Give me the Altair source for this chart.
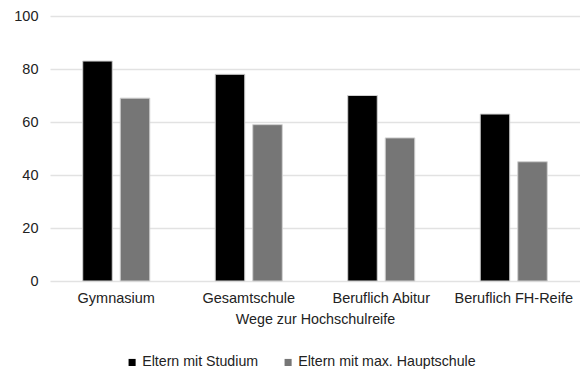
import altair as alt
import pandas as pd

# Survey shares (%) by route to university entrance qualification
categories = ["Gymnasium", "Gesamtschule", "Beruflich Abitur", "Beruflich FH-Reife"]
series = ["Eltern mit Studium", "Eltern mit max. Hauptschule"]
studium = [83, 78, 70, 63]
hauptschule = [69, 59, 54, 45]

rows = []
for cat, a, b in zip(categories, studium, hauptschule):
    rows.append({"Weg": cat, "Gruppe": series[0], "Wert": a})
    rows.append({"Weg": cat, "Gruppe": series[1], "Wert": b})
df = pd.DataFrame(rows)

FONT = "Liberation Sans"

chart = (
    alt.Chart(df)
    .mark_bar(stroke="#d0d0d0", strokeWidth=1)
    .encode(
        x=alt.X(
            "Weg:N",
            sort=categories,
            title="Wege zur Hochschulreife",
            scale=alt.Scale(paddingInner=0.494, paddingOuter=0.247),
            axis=alt.Axis(
                labelAngle=0,
                domain=False,
                ticks=False,
                labelPadding=10,
                titlePadding=8,
            ),
        ),
        xOffset=alt.XOffset(
            "Gruppe:N",
            sort=series,
            scale=alt.Scale(paddingInner=0.213, paddingOuter=0),
        ),
        y=alt.Y(
            "Wert:Q",
            title=None,
            scale=alt.Scale(domain=[0, 100]),
            axis=alt.Axis(
                values=[0, 20, 40, 60, 80, 100],
                domain=False,
                ticks=False,
                labelPadding=12,
                grid=True,
            ),
        ),
        color=alt.Color(
            "Gruppe:N",
            sort=series,
            scale=alt.Scale(domain=series, range=["#000000", "#767676"]),
            legend=alt.Legend(
                title=None,
                orient="none",
                direction="horizontal",
                legendX=75,
                legendY=339,
                symbolType="square",
                symbolSize=50,
                symbolStrokeWidth=0,
                labelOffset=3,
                labelLimit=0,
                columnPadding=22,
            ),
        ),
    )
    .properties(
        width=530,
        height=265,
        padding={"left": 50, "top": 16, "right": 0, "bottom": 88},
        autosize=alt.AutoSizeParams(type="none"),
    )
    .configure_view(stroke=None)
    .configure_axis(
        labelFont=FONT,
        titleFont=FONT,
        labelFontSize=14.5,
        titleFontSize=14.3,
        titleFontWeight="normal",
        labelColor="#222222",
        titleColor="#222222",
        gridColor="#e2e2e2",
        gridWidth=1.5,
    )
    .configure_legend(
        labelFont=FONT,
        labelFontSize=14.2,
        labelColor="#222222",
    )
)

chart.save("out.html", embed_options={"renderer": "svg", "actions": False})
